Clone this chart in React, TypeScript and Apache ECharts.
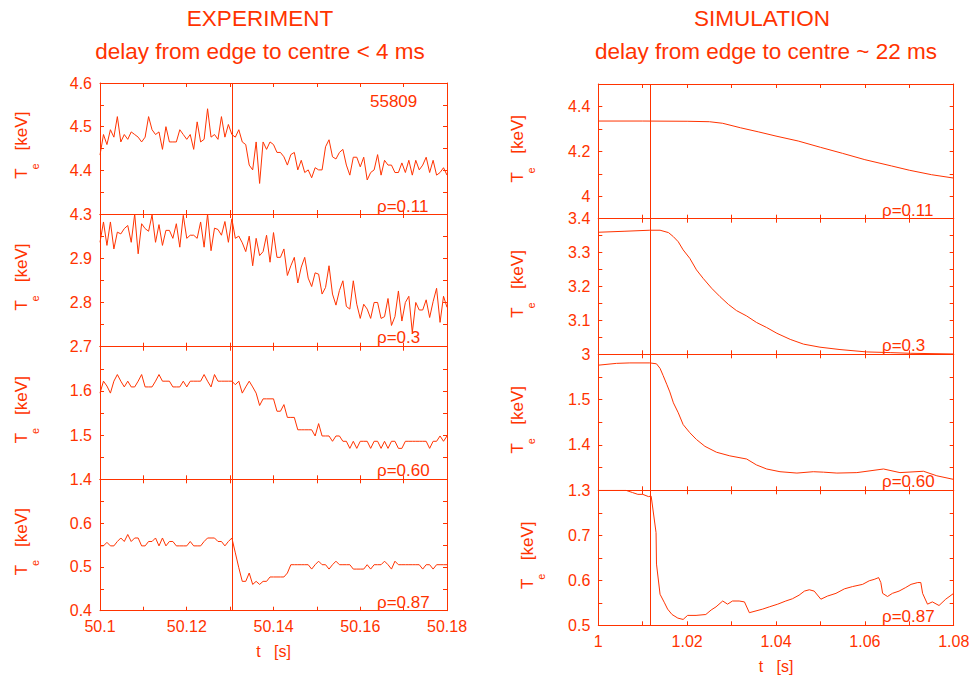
import React, { useEffect, useRef } from 'react';
import * as echarts from 'echarts';

const RED = '#FF3300';
const FONT = "'Liberation Sans', Arial, Helvetica, sans-serif";

// ---------- DATA ----------
// Experiment (shot 55809): samples every 0.8 ms starting at t = 50.1 s
const EXP_T0 = 50.1;
const EXP_DT = 0.0008;
const EXP_MARK_T = 50.1305;
const SIM_MARK_T = 1.0117;

const expRho011 = [
  4.435, 4.482, 4.459, 4.493, 4.476, 4.523, 4.465, 4.482, 4.471, 4.488,
  4.482, 4.476, 4.465, 4.476, 4.523, 4.493, 4.482, 4.488, 4.448, 4.5,
  4.465, 4.465, 4.465, 4.493, 4.482, 4.471, 4.482, 4.448, 4.511, 4.465,
  4.471, 4.541, 4.476, 4.482, 4.471, 4.523, 4.476, 4.505, 4.482, 4.476,
  4.493, 4.465, 4.459, 4.412, 4.401, 4.465, 4.37, 4.465, 4.448, 4.465,
  4.459, 4.441, 4.441, 4.431, 4.412, 4.436, 4.441, 4.401, 4.423, 4.395,
  4.401, 4.383, 4.406, 4.401, 4.401, 4.454, 4.47, 4.431, 4.426, 4.441,
  4.448, 4.412, 4.389, 4.43, 4.43, 4.408, 4.43, 4.378, 4.395, 4.401,
  4.436, 4.389, 4.423, 4.412, 4.412, 4.395, 4.395, 4.417, 4.395, 4.423,
  4.389, 4.423, 4.401, 4.412, 4.43, 4.395, 4.423, 4.389, 4.395, 4.406, 4.389,
];
const expRho03 = [
  2.936, 2.982, 2.929, 2.982, 2.921, 2.959, 2.955, 2.967, 2.974, 2.936,
  3.0, 2.91, 2.978, 2.967, 2.961, 2.998, 2.936, 2.976, 2.929, 2.963,
  2.963, 2.945, 2.978, 2.925, 2.997, 2.945, 2.952, 2.952, 2.945, 2.982,
  2.925, 3.0, 2.917, 2.968, 2.965, 2.952, 2.983, 2.936, 2.989, 2.945,
  2.95, 2.935, 2.915, 2.95, 2.883, 2.945, 2.906, 2.915, 2.952, 2.891,
  2.958, 2.902, 2.902, 2.921, 2.861, 2.883, 2.902, 2.844, 2.88, 2.902,
  2.855, 2.836, 2.867, 2.864, 2.819, 2.834, 2.883, 2.819, 2.794, 2.827,
  2.849, 2.791, 2.785, 2.849, 2.796, 2.764, 2.796, 2.785, 2.764, 2.8,
  2.8, 2.764, 2.768, 2.809, 2.748, 2.768, 2.826, 2.758, 2.8, 2.814,
  2.732, 2.8, 2.783, 2.783, 2.806, 2.766, 2.802, 2.832, 2.755, 2.814, 2.789,
];
const expRho060 = [
  1.595, 1.622, 1.611, 1.595, 1.622, 1.637, 1.622, 1.609, 1.622, 1.609,
  1.609, 1.622, 1.637, 1.609, 1.609, 1.609, 1.622, 1.637, 1.622, 1.622,
  1.622, 1.609, 1.609, 1.609, 1.622, 1.609, 1.622, 1.622, 1.622, 1.622,
  1.637, 1.622, 1.609, 1.637, 1.622, 1.622, 1.622, 1.622, 1.622, 1.614,
  1.622, 1.595, 1.609, 1.622, 1.609, 1.595, 1.567, 1.582, 1.582, 1.582,
  1.582, 1.554, 1.554, 1.569, 1.54, 1.54, 1.54, 1.512, 1.512, 1.512,
  1.512, 1.512, 1.498, 1.526, 1.498, 1.498, 1.498, 1.486, 1.498, 1.498,
  1.486, 1.486, 1.47, 1.486, 1.47, 1.486, 1.486, 1.486, 1.47, 1.486,
  1.486, 1.47, 1.486, 1.47, 1.486, 1.486, 1.47, 1.47, 1.486, 1.486,
  1.486, 1.486, 1.486, 1.486, 1.486, 1.47, 1.486, 1.486, 1.498, 1.486, 1.498,
];
const expRho087 = [
  0.548, 0.548, 0.556, 0.548, 0.548, 0.558, 0.566, 0.558, 0.574, 0.558,
  0.566, 0.566, 0.548, 0.548, 0.558, 0.558, 0.566, 0.548, 0.566, 0.548,
  0.558, 0.558, 0.548, 0.548, 0.548, 0.548, 0.558, 0.548, 0.548, 0.548,
  0.558, 0.566, 0.566, 0.566, 0.558, 0.558, 0.548, 0.558, 0.566, 0.532,
  0.498, 0.467, 0.467, 0.486, 0.46, 0.467, 0.46, 0.467, 0.467, 0.477,
  0.477, 0.477, 0.477, 0.477, 0.486, 0.505, 0.505, 0.505, 0.505, 0.505,
  0.505, 0.495, 0.505, 0.513, 0.505, 0.505, 0.495, 0.505, 0.513, 0.505,
  0.505, 0.505, 0.505, 0.495, 0.495, 0.495, 0.495, 0.505, 0.495, 0.505,
  0.505, 0.505, 0.513, 0.505, 0.495, 0.513, 0.505, 0.505, 0.505, 0.505,
  0.505, 0.505, 0.505, 0.495, 0.505, 0.505, 0.495, 0.505, 0.505, 0.505, 0.505,
];

// Simulation: [t (s), Te (keV)]
const simRho011: [number, number][] = [
  [1.0, 4.335], [1.01, 4.335], [1.02, 4.334], [1.025, 4.332], [1.028, 4.325],
  [1.032, 4.305], [1.036, 4.287], [1.04, 4.268], [1.045, 4.246], [1.05, 4.218],
  [1.055, 4.191], [1.06, 4.163], [1.066, 4.135], [1.07, 4.116], [1.075, 4.096],
  [1.08, 4.081],
];
const simRho03: [number, number][] = [
  [1.0, 3.36], [1.006, 3.363], [1.0116, 3.366], [1.0139, 3.366], [1.0158, 3.359],
  [1.0169, 3.347], [1.018, 3.332], [1.0191, 3.308], [1.0206, 3.283], [1.0221, 3.249],
  [1.0236, 3.224], [1.0255, 3.195], [1.0274, 3.17], [1.0293, 3.147], [1.0311, 3.129],
  [1.0334, 3.113], [1.0356, 3.094], [1.0379, 3.079], [1.0402, 3.062], [1.0432, 3.044],
  [1.0462, 3.03], [1.0499, 3.021], [1.0544, 3.014], [1.0604, 3.007], [1.0657, 3.005],
  [1.0702, 3.003], [1.08, 3.001],
];
const simRho060: [number, number][] = [
  [1.0, 1.576], [1.0041, 1.58], [1.0071, 1.581], [1.0116, 1.581], [1.0131, 1.579],
  [1.0139, 1.569], [1.0146, 1.553], [1.0154, 1.534], [1.0161, 1.517], [1.0169, 1.493],
  [1.018, 1.471], [1.0191, 1.445], [1.0206, 1.427], [1.0221, 1.412], [1.024, 1.397],
  [1.0266, 1.384], [1.0296, 1.376], [1.0334, 1.369], [1.0356, 1.356], [1.0379, 1.347],
  [1.0409, 1.341], [1.0447, 1.338], [1.0484, 1.341], [1.0507, 1.34], [1.0537, 1.338],
  [1.0582, 1.339], [1.0642, 1.347], [1.0679, 1.339], [1.0732, 1.342], [1.0762, 1.332],
  [1.08, 1.324],
];
const simRho087: [number, number][] = [
  [1.0, 0.8], [1.004, 0.8], [1.0062, 0.8], [1.0077, 0.795], [1.0089, 0.791],
  [1.01, 0.791], [1.0113, 0.786], [1.0119, 0.787], [1.013, 0.706], [1.0131, 0.636],
  [1.0139, 0.569], [1.0149, 0.55], [1.0156, 0.536], [1.0166, 0.524], [1.0179, 0.516],
  [1.0191, 0.513], [1.0201, 0.522], [1.022, 0.522], [1.0242, 0.524], [1.0254, 0.534],
  [1.0265, 0.541], [1.028, 0.554], [1.0291, 0.547], [1.0302, 0.554], [1.0317, 0.554],
  [1.0329, 0.552], [1.034, 0.528], [1.0355, 0.532], [1.037, 0.536], [1.0385, 0.541],
  [1.0404, 0.547], [1.0422, 0.554], [1.0437, 0.559], [1.0452, 0.567], [1.0464, 0.576],
  [1.0475, 0.579], [1.0486, 0.576], [1.0501, 0.558], [1.0516, 0.565], [1.0535, 0.571],
  [1.0554, 0.581], [1.0572, 0.586], [1.0595, 0.591], [1.061, 0.599], [1.0621, 0.602],
  [1.0631, 0.606], [1.0636, 0.595], [1.064, 0.571], [1.0651, 0.564], [1.0662, 0.571],
  [1.0677, 0.576], [1.0692, 0.584], [1.0704, 0.591], [1.0719, 0.595], [1.0726, 0.595],
  [1.073, 0.571], [1.0741, 0.547], [1.0752, 0.552], [1.0767, 0.544], [1.0782, 0.558],
  [1.08, 0.571],
];

const rhoLabels = ['ρ=0.11', 'ρ=0.3', 'ρ=0.60', 'ρ=0.87'];
const expXRange = [50.1, 50.18];
const simXRange = [1.0, 1.08];
const expYRanges = [[4.3, 4.6], [2.7, 3.0], [1.4, 1.7], [0.4, 0.7]];
const simYRanges = [[3.9, 4.5], [3.0, 3.4], [1.3, 1.6], [0.5, 0.8]];

// ---------- LAYOUT ----------
type Panel = {
  left: number; top: number; width: number; height: number;
  xr: number[]; yr: number[]; yInterval: number; labelStep: number;
  showMax: boolean; showMin: boolean; bottom: boolean;
  data: [number, number][]; mark: number;
};

const expData = [expRho011, expRho03, expRho060, expRho087].map((arr) =>
  arr.map((v, i) => [EXP_T0 + i * EXP_DT, v] as [number, number])
);
const simData = [simRho011, simRho03, simRho060, simRho087];

const leftEdges = [83, 214, 346.7, 479.3, 610.7];
const rightEdges = [84, 218.7, 354.3, 490.3, 625.3];

const panels: Panel[] = [];
for (let i = 0; i < 4; i++) {
  panels.push({
    left: 100, width: 347, top: leftEdges[i], height: leftEdges[i + 1] - leftEdges[i],
    xr: expXRange, yr: expYRanges[i], yInterval: 0.05, labelStep: 10,
    showMax: i === 0, showMin: true, bottom: i === 3,
    data: expData[i], mark: EXP_MARK_T,
  });
}
for (let i = 0; i < 4; i++) {
  panels.push({
    left: 598.3, width: 355.4, top: rightEdges[i], height: rightEdges[i + 1] - rightEdges[i],
    xr: simXRange, yr: simYRanges[i], yInterval: i === 0 ? 0.1 : 0.05, labelStep: i === 0 ? 20 : 10,
    showMax: i === 1, showMin: true, bottom: i === 3,
    data: simData[i], mark: SIM_MARK_T,
  });
}

const fmt = (v: number) => String(parseFloat(v.toFixed(2)));

function buildOption() {
  const grid: any[] = [];
  const xAxis: any[] = [];
  const yAxis: any[] = [];
  const series: any[] = [];
  const lineStyle = { color: RED, width: 1 };

  panels.forEach((p, i) => {
    grid.push({ left: p.left, top: p.top, width: p.width, height: p.height, containLabel: false, outerBoundsMode: 'none' });
    const xBase = {
      type: 'value', gridIndex: i, min: p.xr[0], max: p.xr[1], interval: 0.01,
      axisLine: { show: true, onZero: false, lineStyle },
      axisTick: { show: true, inside: true, length: 4, lineStyle },
      splitLine: { show: false },
    };
    xAxis.push({
      ...xBase, position: 'bottom',
      axisLabel: {
        show: p.bottom, color: RED, fontSize: 16, fontFamily: FONT, margin: 8,
        formatter: (v: number) => (Math.round(v * 100) % 2 === 0 ? fmt(v) : ''),
      },
      name: p.bottom ? 't   [s]' : '', nameLocation: 'middle', nameGap: 33,
      nameTextStyle: { color: RED, fontSize: 16, fontFamily: FONT, verticalAlign: 'top' },
    });
    xAxis.push({ ...xBase, position: 'top', axisLabel: { show: false } });

    const yBase = {
      type: 'value', gridIndex: i, min: p.yr[0], max: p.yr[1], interval: p.yInterval,
      axisLine: { show: true, onZero: false, lineStyle },
      axisTick: { show: true, inside: true, length: 4, lineStyle },
      splitLine: { show: false },
    };
    yAxis.push({
      ...yBase, position: 'left',
      axisLabel: {
        show: true, color: RED, fontSize: 16, fontFamily: FONT, margin: 8,
        showMaxLabel: p.showMax, showMinLabel: p.showMin,
        formatter: (v: number) => (Math.round(v * 100) % p.labelStep === 0 ? fmt(v) : ''),
      },
    });
    yAxis.push({ ...yBase, position: 'right', axisLabel: { show: false } });

    series.push({
      type: 'line', xAxisIndex: 2 * i, yAxisIndex: 2 * i, data: p.data,
      symbol: 'none', showSymbol: false, lineStyle: { color: RED, width: 1 },
      itemStyle: { color: RED }, clip: true, silent: true,
      markLine: {
        silent: true, symbol: ['none', 'none'], label: { show: false }, precision: 6,
        lineStyle: { color: RED, width: 1, type: 'solid' },
        data: [{ xAxis: p.mark }],
      },
    });
  });

  const graphic: any[] = [];
  const txt = (text: string, x: number, y: number, size: number, align = 'left', rotation = 0) => ({
    type: 'text', x, y, rotation, silent: true,
    style: {
      text, fill: RED, font: `${size}px ${FONT}`, fontSize: size, fontFamily: FONT,
      align, verticalAlign: 'middle', textAlign: align, textVerticalAlign: 'middle',
    },
  });

  graphic.push(txt('EXPERIMENT', 260, 18.5, 22.5, 'center'));
  graphic.push(txt('delay from edge to centre < 4 ms', 260, 51, 22.5, 'center'));
  graphic.push(txt('SIMULATION', 762, 18.5, 22.5, 'center'));
  graphic.push(txt('delay from edge to centre ~ 22 ms', 766, 51, 22.5, 'center'));
  graphic.push(txt('55809', 370, 101, 17, 'left'));

  const leftRhoY = [206, 337, 470, 602];
  const rightRhoY = [210, 345, 481, 616];
  for (let i = 0; i < 4; i++) {
    graphic.push(txt(rhoLabels[i], 377, leftRhoY[i], 17, 'left'));
    graphic.push(txt(rhoLabels[i], 882, rightRhoY[i], 17, 'left'));
  }

  // y-axis titles: T_e [keV]
  const R = Math.PI / 2;
  for (let i = 0; i < 4; i++) {
    const lc = (leftEdges[i] + leftEdges[i + 1]) / 2;
    graphic.push(txt('T', 21, lc + 25, 17, 'center', R));
    graphic.push(txt('e', 35, lc + 18, 11, 'center', R));
    graphic.push(txt('[keV]', 21, lc - 17.5, 17, 'center', R));
    const rc = (rightEdges[i] + rightEdges[i + 1]) / 2;
    const dx = i === 3 ? 10 : 0;
    graphic.push(txt('T', 517 + dx, rc + 26, 17, 'center', R));
    graphic.push(txt('e', 531 + dx, rc + 19, 11, 'center', R));
    graphic.push(txt('[keV]', 517 + dx, rc - 17, 17, 'center', R));
  }

  return {
    animation: false,
    backgroundColor: '#ffffff',
    textStyle: { fontFamily: FONT },
    grid, xAxis, yAxis, series, graphic,
  };
}

export default function App() {
  const ref = useRef<HTMLDivElement>(null);
  useEffect(() => {
    if (!ref.current) return;
    const chart = echarts.init(ref.current, undefined, { renderer: 'svg' });
    chart.setOption(buildOption() as any);
    return () => chart.dispose();
  }, []);
  return (
    <div
      ref={ref}
      style={{ position: 'fixed', left: 0, top: 0, width: 974, height: 677, background: '#fff' }}
    />
  );
}
